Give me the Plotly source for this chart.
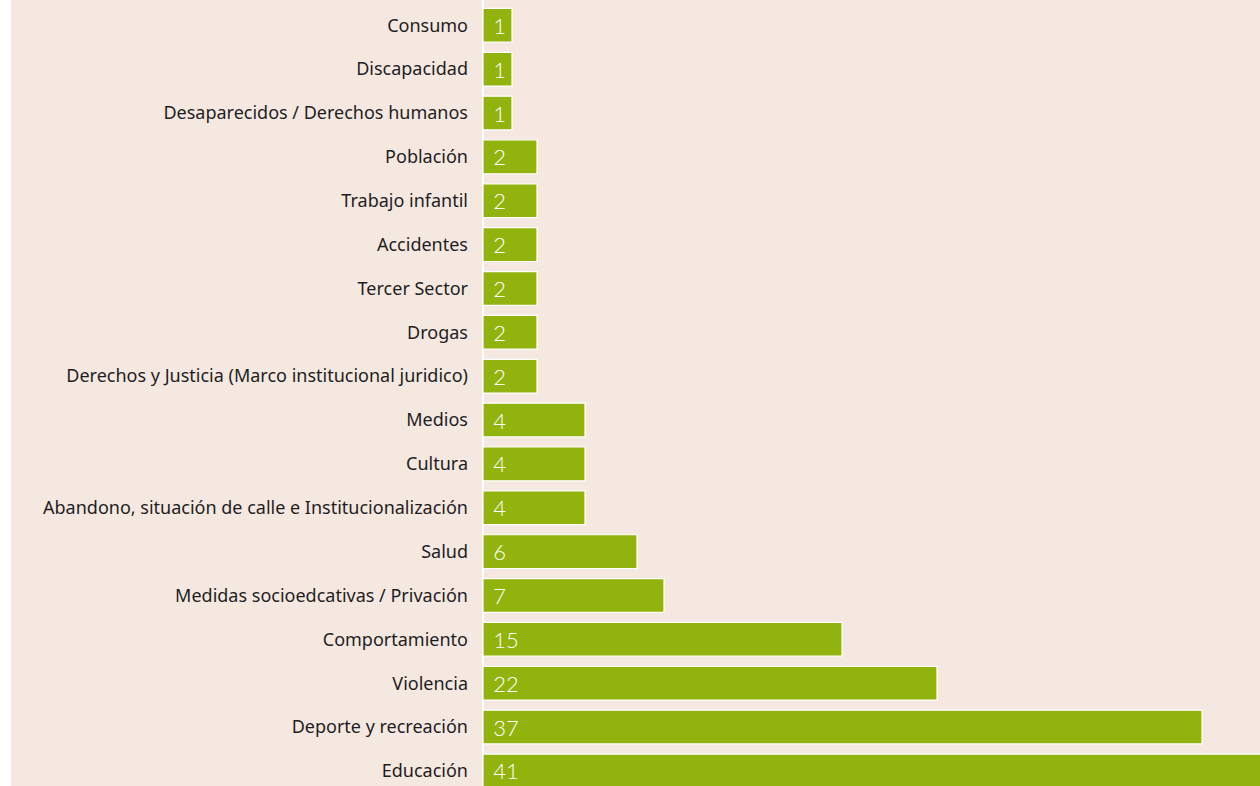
import plotly.graph_objects as go

# Categories, top to bottom as shown
categories = [
    "Consumo",
    "Discapacidad",
    "Desaparecidos / Derechos humanos",
    "Población",
    "Trabajo infantil",
    "Accidentes",
    "Tercer Sector",
    "Drogas",
    "Derechos y Justicia (Marco institucional juridico)",
    "Medios",
    "Cultura",
    "Abandono, situación de calle e Institucionalización",
    "Salud",
    "Medidas socioedcativas / Privación",
    "Comportamiento",
    "Violencia",
    "Deporte y recreación",
    "Educación",
]

# Values printed on the bars
counts = [1, 1, 1, 2, 2, 2, 2, 2, 2, 4, 4, 4, 6, 7, 15, 22, 37, 41]

# Bar lengths as drawn in the picture (axis units)
bar_lengths = [1.16, 1.16, 1.16, 2.16, 2.16, 2.16, 2.16, 2.16, 2.16,
               4.08, 4.08, 4.08, 6.16, 7.24, 14.36, 18.16, 28.76, 32.5]

BG = "#f5e8e1"
GREEN = "#92b30d"

fig = go.Figure(
    go.Bar(
        x=bar_lengths,
        y=categories,
        orientation="h",
        text=counts,
        texttemplate=" \u200a%{text}",
        textposition="inside",
        insidetextanchor="start",
        constraintext="none",
        textfont=dict(family="Lato, Noto Sans, sans-serif", size=22, color="white", weight=300),
        marker=dict(color=GREEN, line=dict(color="white", width=1.2)),
        hoverinfo="skip",
        cliponaxis=True,
    )
)

fig.update_layout(
    width=1249,
    height=786,
    margin=dict(l=472, r=0, t=0, b=0, pad=0),
    paper_bgcolor=BG,
    plot_bgcolor=BG,
    bargap=0.23,
    showlegend=False,
    font=dict(family="Noto Sans, sans-serif", size=18, color="#1e1e1e"),
    xaxis=dict(
        range=[0, 777 / 25],
        showticklabels=False,
        showgrid=False,
        zeroline=True,
        zerolinecolor="white",
        zerolinewidth=2,
        fixedrange=True,
    ),
    yaxis=dict(
        categoryorder="array",
        categoryarray=categories,
        range=[17.344, -0.577],
        showgrid=False,
        zeroline=False,
        showline=False,
        ticks="",
        ticklabelstandoff=14,
        tickfont=dict(family="Noto Sans, sans-serif", size=18, color="#1e1e1e"),
        fixedrange=True,
    ),
)

fig.write_html(
    "out.html",
    config={"displayModeBar": False},
    post_script="document.body.style.margin='0px 0px 0px 11px';document.body.style.overflow='hidden';",
)
